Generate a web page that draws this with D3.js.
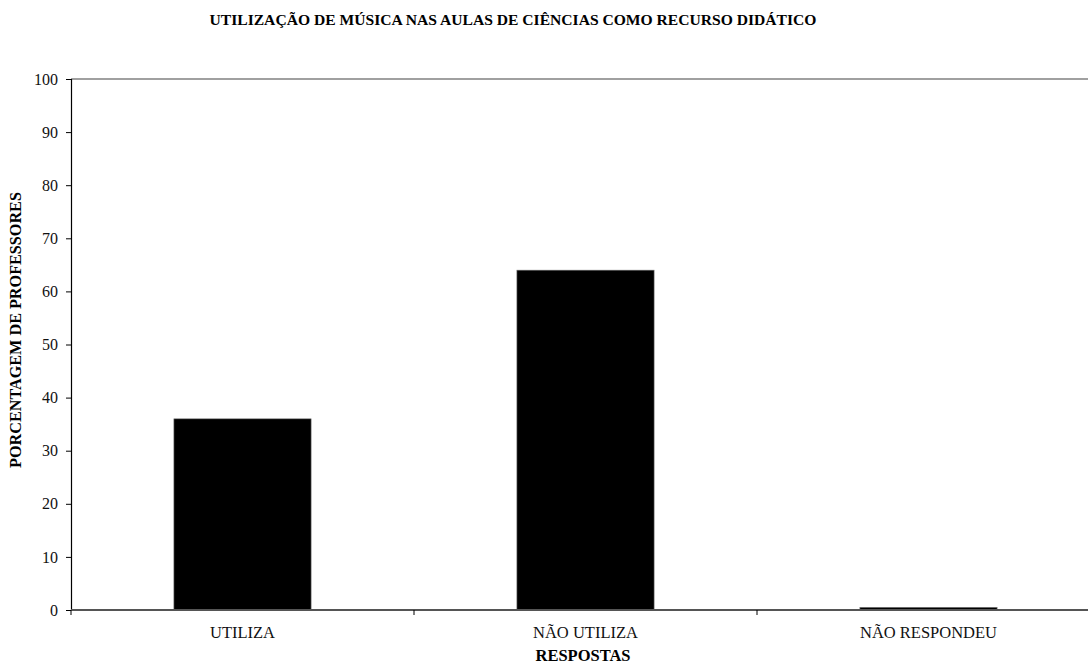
<!DOCTYPE html>
<html>
<head>
<meta charset="utf-8">
<script src="https://cdn.jsdelivr.net/npm/d3@7"></script>
<style>
  html, body { margin: 0; padding: 0; background: #fff; }
  svg { display: block; font-family: "Liberation Serif", "Times New Roman", serif; }
</style>
</head>
<body>
<svg id="chart" width="1088" height="666"></svg>
<script>
// Survey answers and the share of teachers for each
const categories = ["UTILIZA", "NÃO UTILIZA", "NÃO RESPONDEU"];
const percentages = [36, 64, 0.5];
const yTicks = [0, 10, 20, 30, 40, 50, 60, 70, 80, 90, 100];

const titleText = "UTILIZAÇÃO DE MÚSICA NAS AULAS DE CIÊNCIAS COMO RECURSO DIDÁTICO";
const yTitle = "PORCENTAGEM DE PROFESSORES";
const xTitle = "RESPOSTAS";

const svg = d3.select("#chart");
const plot = { left: 71, right: 1100, top: 79, bottom: 610 };

const x = d3.scaleBand()
  .domain(categories)
  .range([plot.left, plot.right])
  .paddingInner(0.6)
  .paddingOuter(0.3);

const y = d3.scaleLinear()
  .domain([0, 100])
  .range([plot.bottom, plot.top]);

// top frame line
svg.append("line")
  .attr("x1", plot.left).attr("x2", plot.right)
  .attr("y1", y(100)).attr("y2", y(100))
  .attr("stroke", "#808080").attr("stroke-width", 1.5);

// bars
svg.append("g").selectAll("rect")
  .data(categories.map((c, i) => ({ c, v: percentages[i] })))
  .join("rect")
  .attr("x", d => x(d.c))
  .attr("width", x.bandwidth())
  .attr("y", d => y(d.v))
  .attr("height", d => y(0) - y(d.v))
  .attr("fill", "#000")
  .attr("stroke", "#777")
  .attr("stroke-width", 0.6);

// y axis
const yAxis = svg.append("g")
  .attr("transform", `translate(${plot.left},0)`)
  .call(d3.axisLeft(y).tickValues(yTicks).tickSize(5).tickPadding(8).tickFormat(d3.format("d")));
yAxis.select(".domain").attr("stroke", "#000").attr("stroke-width", 1.2);
yAxis.selectAll(".tick line").attr("stroke", "#000");
yAxis.selectAll(".tick text")
  .attr("font-family", "Liberation Serif").attr("font-size", 16).attr("fill", "#111");

// x axis line, with ticks at the category boundaries
svg.append("line")
  .attr("x1", plot.left).attr("x2", plot.right)
  .attr("y1", y(0)).attr("y2", y(0))
  .attr("stroke", "#555").attr("stroke-width", 2);
svg.append("g").selectAll("line")
  .data(categories)
  .join("line")
  .attr("x1", c => x(c) - x.step() * x.paddingOuter())
  .attr("x2", c => x(c) - x.step() * x.paddingOuter())
  .attr("y1", y(0)).attr("y2", y(0) + 5)
  .attr("stroke", "#000").attr("stroke-width", 1);
svg.append("g").selectAll("text")
  .data(categories)
  .join("text")
  .attr("x", c => x(c) + x.bandwidth() / 2)
  .attr("y", 638)
  .attr("text-anchor", "middle")
  .attr("font-size", 16.5)
  .attr("fill", "#111")
  .text(c => c);

// titles
svg.append("text")
  .attr("x", 513).attr("y", 25)
  .attr("text-anchor", "middle")
  .attr("font-size", 15.6).attr("font-weight", "bold")
  .text(titleText);

svg.append("text")
  .attr("x", 583).attr("y", 661)
  .attr("text-anchor", "middle")
  .attr("font-size", 16.5).attr("font-weight", "bold")
  .text(xTitle);

svg.append("text")
  .attr("transform", "translate(21,330) rotate(-90)")
  .attr("text-anchor", "middle")
  .attr("font-size", 16.2).attr("font-weight", "bold")
  .text(yTitle);
</script>
</body>
</html>
